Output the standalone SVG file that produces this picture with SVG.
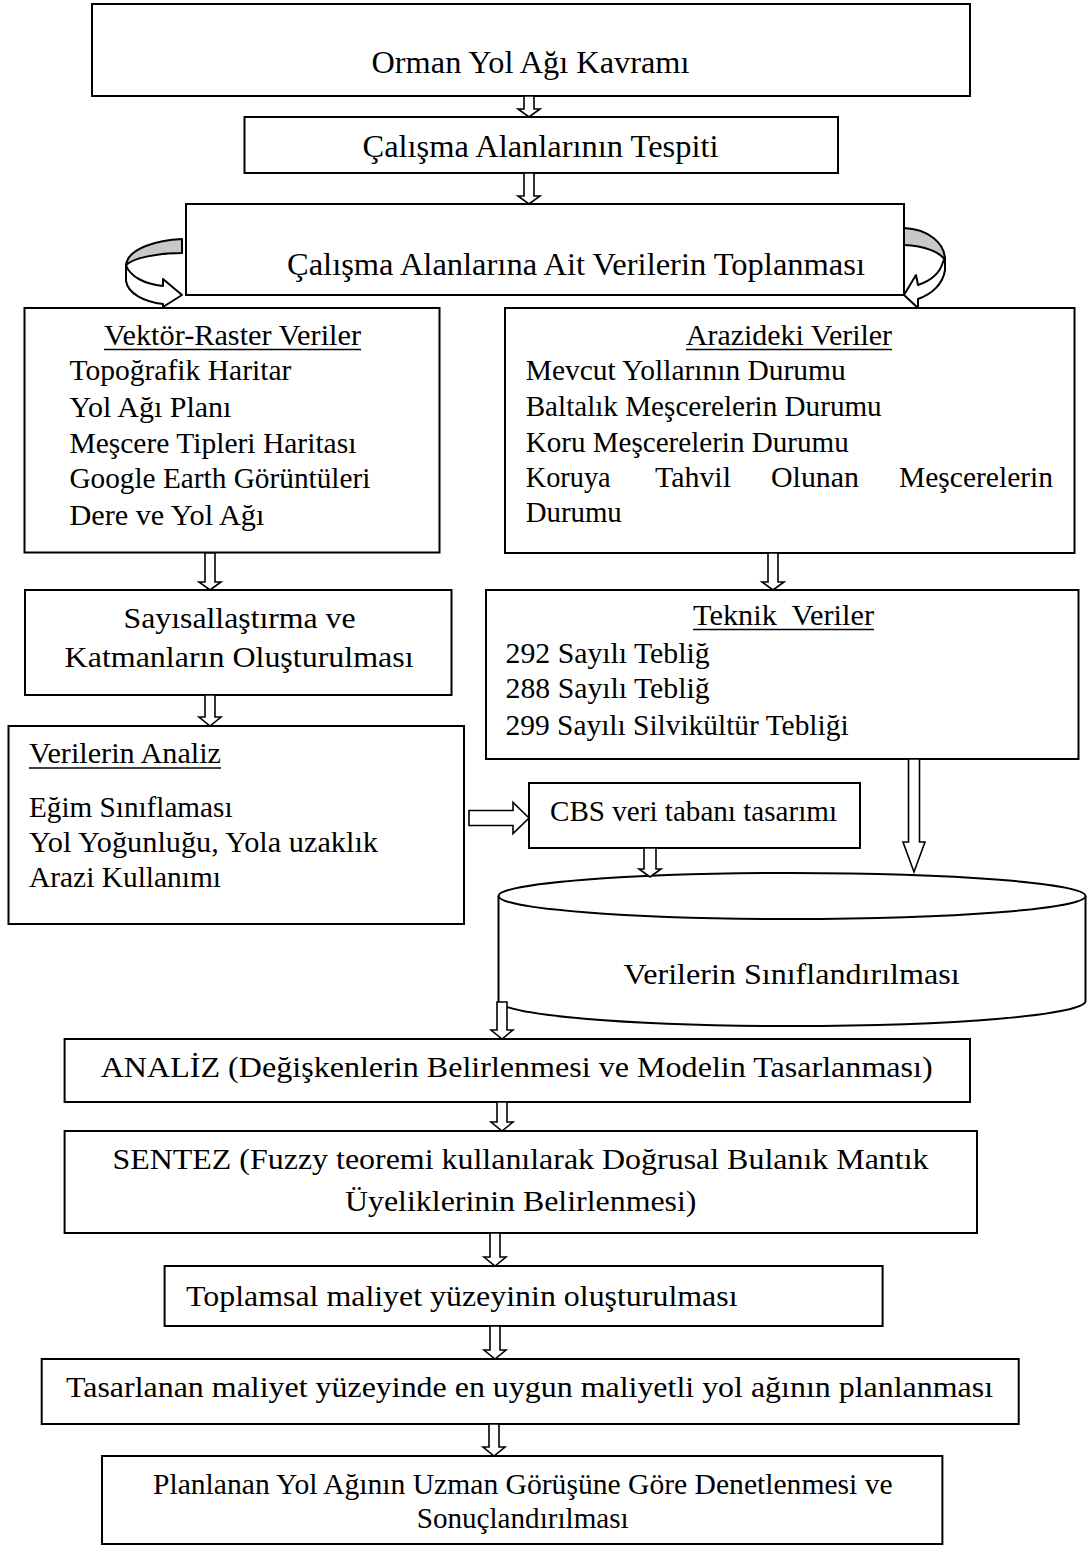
<svg xmlns="http://www.w3.org/2000/svg" width="1089" height="1546" viewBox="0 0 1089 1546">
<style>
.box{fill:#fff;stroke:#000;stroke-width:2}
.t{font-family:"Liberation Serif","Times New Roman",serif;font-size:29.5px;fill:#000}
.h{font-size:31px}
.ul{stroke:#000;stroke-width:1.6}
.ar{fill:#fff;stroke:#000;stroke-width:1.6;stroke-linejoin:miter}
.cv{stroke:#000;stroke-width:2;stroke-linejoin:round}
</style>
<rect width="1089" height="1546" fill="#fff"/>

<g id="n1"><rect class="box" x="92" y="4" width="878" height="92"/>
<text class="t h" x="371.5" y="73" textLength="318" lengthAdjust="spacingAndGlyphs">Orman Yol Ağı Kavramı</text></g>

<g id="n2"><rect class="box" x="244.5" y="117" width="593.5" height="56"/>
<text class="t h" x="362.5" y="157" textLength="356" lengthAdjust="spacingAndGlyphs">Çalışma Alanlarının Tespiti</text></g>

<g id="n3"><rect class="box" x="186" y="204" width="718" height="91"/>
<text class="t h" x="287" y="275" textLength="578" lengthAdjust="spacingAndGlyphs">Çalışma Alanlarına Ait Verilerin Toplanması</text></g>

<g id="n4"><rect class="box" x="24.5" y="308" width="415" height="244.5"/>
<text class="t" x="104" y="345" textLength="257" lengthAdjust="spacingAndGlyphs">Vektör-Raster Veriler</text>
<line class="ul" x1="104" y1="349.5" x2="361" y2="349.5"/>
<text class="t" x="69.4" y="380" textLength="222" lengthAdjust="spacingAndGlyphs">Topoğrafik Haritar</text>
<text class="t" x="69.4" y="416.5" textLength="162" lengthAdjust="spacingAndGlyphs">Yol Ağı Planı</text>
<text class="t" x="69.4" y="452.5" textLength="287" lengthAdjust="spacingAndGlyphs">Meşcere Tipleri Haritası</text>
<text class="t" x="69.4" y="488" textLength="301" lengthAdjust="spacingAndGlyphs">Google Earth Görüntüleri</text>
<text class="t" x="69.4" y="525" textLength="195" lengthAdjust="spacingAndGlyphs">Dere ve Yol Ağı</text></g>

<g id="n5"><rect class="box" x="505" y="308" width="569.5" height="245"/>
<text class="t" x="686" y="345" textLength="206" lengthAdjust="spacingAndGlyphs">Arazideki Veriler</text>
<line class="ul" x1="686" y1="349.5" x2="892" y2="349.5"/>
<text class="t" x="525.7" y="380" textLength="320" lengthAdjust="spacingAndGlyphs">Mevcut Yollarının Durumu</text>
<text class="t" x="525.7" y="416" textLength="356" lengthAdjust="spacingAndGlyphs">Baltalık Meşcerelerin Durumu</text>
<text class="t" x="525.7" y="452" textLength="323" lengthAdjust="spacingAndGlyphs">Koru Meşcerelerin Durumu</text>
<text class="t" x="525.7" y="487" textLength="85" lengthAdjust="spacingAndGlyphs">Koruya</text>
<text class="t" x="655" y="487" textLength="76" lengthAdjust="spacingAndGlyphs">Tahvil</text>
<text class="t" x="771" y="487" textLength="88" lengthAdjust="spacingAndGlyphs">Olunan</text>
<text class="t" x="899" y="487" textLength="154" lengthAdjust="spacingAndGlyphs">Meşcerelerin</text>
<text class="t" x="525.7" y="522" textLength="96" lengthAdjust="spacingAndGlyphs">Durumu</text></g>

<g id="n6"><rect class="box" x="25" y="590" width="426.5" height="105"/>
<text class="t" x="123.6" y="628" textLength="232" lengthAdjust="spacingAndGlyphs">Sayısallaştırma ve</text>
<text class="t" x="64.6" y="667" textLength="349" lengthAdjust="spacingAndGlyphs">Katmanların Oluşturulması</text></g>

<g id="n7"><rect class="box" x="486" y="590" width="592.5" height="169"/>
<text class="t" x="693" y="625" xml:space="preserve" textLength="181" lengthAdjust="spacingAndGlyphs">Teknik  Veriler</text>
<line class="ul" x1="693" y1="629.5" x2="874" y2="629.5"/>
<text class="t" x="505.6" y="663" textLength="204" lengthAdjust="spacingAndGlyphs">292 Sayılı Tebliğ</text>
<text class="t" x="505.6" y="698" textLength="204" lengthAdjust="spacingAndGlyphs">288 Sayılı Tebliğ</text>
<text class="t" x="505.6" y="735" textLength="343" lengthAdjust="spacingAndGlyphs">299 Sayılı Silvikültür Tebliği</text></g>

<g id="n8"><rect class="box" x="8.5" y="726" width="455.5" height="198"/>
<text class="t" x="29" y="763" textLength="192" lengthAdjust="spacingAndGlyphs">Verilerin Analiz</text>
<line class="ul" x1="29" y1="768" x2="221" y2="768"/>
<text class="t" x="29" y="817" textLength="203.5" lengthAdjust="spacingAndGlyphs">Eğim Sınıflaması</text>
<text class="t" x="29" y="852" textLength="349" lengthAdjust="spacingAndGlyphs">Yol Yoğunluğu, Yola uzaklık</text>
<text class="t" x="29" y="887" textLength="192" lengthAdjust="spacingAndGlyphs">Arazi Kullanımı</text></g>

<g id="n9"><rect class="box" x="529" y="783" width="331" height="65"/>
<text class="t" x="550" y="821" textLength="287" lengthAdjust="spacingAndGlyphs">CBS veri tabanı tasarımı</text></g>

<g id="n10">
<path class="box" d="M498.5,896 L498.5,1001 A293.5,25 0 0 0 1085.5,1001 L1085.5,896"/>
<ellipse class="box" cx="792" cy="896" rx="293.5" ry="23"/>
<text class="t" x="623.6" y="984" textLength="336" lengthAdjust="spacingAndGlyphs">Verilerin Sınıflandırılması</text></g>

<g id="n11"><rect class="box" x="64.6" y="1039" width="905.4" height="63"/>
<text class="t" x="100.7" y="1077" textLength="832" lengthAdjust="spacingAndGlyphs">ANALİZ (Değişkenlerin Belirlenmesi ve Modelin Tasarlanması)</text></g>

<g id="n12"><rect class="box" x="64.6" y="1131" width="912.4" height="102"/>
<text class="t" x="112.5" y="1169" textLength="816" lengthAdjust="spacingAndGlyphs">SENTEZ (Fuzzy teoremi kullanılarak Doğrusal Bulanık Mantık</text>
<text class="t" x="345" y="1211" textLength="351.5" lengthAdjust="spacingAndGlyphs">Üyeliklerinin Belirlenmesi)</text></g>

<g id="n13"><rect class="box" x="164.6" y="1266" width="718" height="60"/>
<text class="t" x="186" y="1306" textLength="551.5" lengthAdjust="spacingAndGlyphs">Toplamsal maliyet yüzeyinin oluşturulması</text></g>

<g id="n14"><rect class="box" x="41.7" y="1359" width="977" height="65"/>
<text class="t" x="66" y="1397" textLength="927" lengthAdjust="spacingAndGlyphs">Tasarlanan maliyet yüzeyinde en uygun maliyetli yol ağının planlanması</text></g>

<g id="n15"><rect class="box" x="102" y="1456" width="840.4" height="88"/>
<text class="t" x="153" y="1494" textLength="739.6" lengthAdjust="spacingAndGlyphs">Planlanan Yol Ağının Uzman Görüşüne Göre Denetlenmesi ve</text>
<text class="t" x="416.7" y="1528" textLength="212" lengthAdjust="spacingAndGlyphs">Sonuçlandırılması</text></g>

<g id="connectors">
<path class="ar" d="M524,96 L534,96 L534,109 L540,109 L529,117 L518,109 L524,109 Z"/>
<path class="ar" d="M524,173 L534,173 L534,196 L540,196 L529,204 L518,196 L524,196 Z"/>
<path class="ar" d="M205,553 L215,553 L215,582 L221,582 L210,590 L199,582 L205,582 Z"/>
<path class="ar" d="M205,695 L215,695 L215,717 L221,717 L210,726 L199,717 L205,717 Z"/>
<path class="ar" d="M768,553 L778,553 L778,582 L784,582 L773,590 L762,582 L768,582 Z"/>
<path class="ar" d="M908.5,759 L919.5,759 L919.5,842 L925,842 L914,872 L903,842 L908.5,842 Z"/>
<path class="ar" d="M469,810.5 L513,810.5 L513,802.5 L529,818 L513,833.5 L513,825.5 L469,825.5 Z"/>
<path class="ar" d="M644,848 L656,848 L656,869 L661,869 L650,877 L639,869 L644,869 Z"/>
<path class="ar" d="M497,1002 L507,1002 L507,1030 L513,1030 L502,1039 L491,1030 L497,1030 Z"/>
<path class="ar" d="M497,1102 L507,1102 L507,1122 L513,1122 L502,1131 L491,1122 L497,1122 Z"/>
<path class="ar" d="M490,1233 L500,1233 L500,1257 L506,1257 L495,1266 L484,1257 L490,1257 Z"/>
<path class="ar" d="M490,1326 L500,1326 L500,1350 L506,1350 L495,1359 L484,1350 L490,1350 Z"/>
<path class="ar" d="M489,1424 L499,1424 L499,1447 L505,1447 L494,1456 L483,1447 L489,1447 Z"/>
<path class="cv" fill="#c8c8c8" d="M182,239 C158,240 128,248 126,265 C133,258 158,253 182,253 Z"/>
<path class="cv" fill="#fff" d="M126,265 L126,281 C128,294 145,302 163,304 L163,307 L182,295 L163,279 L163,286 C145,284 130,277 126,265 Z"/>
<path class="cv" fill="#c8c8c8" d="M904,228 C928,229 945,243 945,260 C940,252 925,246 904,245 Z"/>
<path class="cv" fill="#fff" d="M945,258 L945,270 C943,284 932,294 918,299 L918,308 L904,295 L916,275 L918,285 C930,281 940,273 943,262 Z"/>
</g>
</svg>
